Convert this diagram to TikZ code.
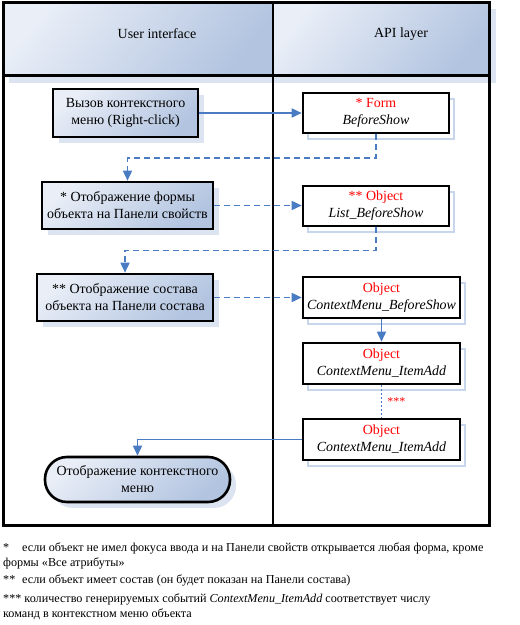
\documentclass[tikz,border=0pt]{standalone}
\usepackage{fontspec}
\setmainfont{Liberation Serif}
\usetikzlibrary{arrows.meta,shadows}
\definecolor{hdrA}{HTML}{E9EEF7}
\definecolor{hdrB}{HTML}{B2C4E0}
\definecolor{shd}{HTML}{DCE4F2}
\definecolor{shdline}{HTML}{C8D6EC}
\definecolor{conn}{HTML}{4A7CC4}
\tikzset{
  txt/.style={font=\fontsize{14}{17}\selectfont},
  cellshade/.style={top color=hdrA, bottom color=hdrB, shading angle=50},
  uibox/.style={txt, draw=black, line width=2.6bp, rectangle, inner sep=0pt, align=center,
    top color=hdrA, bottom color=hdrB, shading angle=40,
    general shadow={shadow xshift=6bp, shadow yshift=-6bp, fill=shd}},
  termbox/.style={uibox, rounded corners=22bp},
  apibox/.style={txt, draw=black, line width=2.6bp, rectangle, inner sep=0pt, align=center, fill=white,
    general shadow={shadow xshift=5bp, shadow yshift=-6bp, draw=shdline, line width=1.8bp, fill=white}},
  link/.style={draw=conn, line width=1.6bp, -{Triangle[length=10bp,width=9bp]}},
  dlink/.style={link, dash pattern=on 6bp off 4bp},
  plink/.style={draw=conn, line width=1.6bp, dash pattern=on 1.4bp off 2.6bp},
  note/.style={font=\fontsize{12.2}{14}\selectfont, anchor=west, inner sep=0pt},
  hdr/.style={txt, inner sep=0pt},
}
\begin{document}
\begin{tikzpicture}[x=1bp,y=-1bp]
\useasboundingbox (0,0) rectangle (520,625);
% header
\fill[shd] (9,9) rectangle (496,83);
\shade[cellshade] (3,3) rectangle (273,76);
\shade[cellshade] (273,3) rectangle (489,76);
\draw[line width=3bp] (3,3) rectangle (489,525);
\draw[line width=3bp] (3,76) -- (489,76);
\draw[line width=2.6bp] (273,3) -- (273,525);
\node[hdr] (hui) at (157,34) {User interface};
\node[hdr] (hapi) at (401,34) {API layer};
% left column
\node[uibox, minimum width=145bp, minimum height=48bp] (b1) at (125.5,113) {Вызов контекстного\\меню (Right-click)};
\node[uibox, minimum width=171bp, minimum height=47bp] (b2) at (127.5,205.5) {* Отображение формы\\объекта на Панели свойств};
\node[uibox, minimum width=176bp, minimum height=47bp] (b3) at (125,297.5) {** Отображение состава\\объекта на Панели состава};
\node[termbox, minimum width=185bp, minimum height=45bp] (term) at (137.5,479.5) {Отображение контекстного\\меню};
% right column
\node[apibox, minimum width=146bp, minimum height=40bp] (fA) at (376,113) {\textcolor{red}{* Form}\\\textit{BeforeShow}};
\node[apibox, minimum width=146bp, minimum height=40bp] (fB) at (376,206) {\textcolor{red}{** Object}\\\textit{List\_BeforeShow}};
\node[apibox, minimum width=157bp, minimum height=41bp] (fC) at (381.5,297.5) {\textcolor{red}{Object}\\\textit{ContextMenu\_BeforeShow}};
\node[apibox, minimum width=157bp, minimum height=41bp] (fD) at (381.5,363.5) {\textcolor{red}{Object}\\\textit{ContextMenu\_ItemAdd}};
\node[apibox, minimum width=157bp, minimum height=41bp] (fE) at (381.5,439.5) {\textcolor{red}{Object}\\\textit{ContextMenu\_ItemAdd}};
% connectors
\draw[link] (b1.east) -- (b1.east -| fA.west);
\draw[dlink] (fA.south) -- ++(0,24) -| (b2.north);
\draw[dlink] (b2.east) -- (b2.east -| fB.west);
\draw[dlink] (fB.south) -- ++(0,23) -| (b3.north);
\draw[dlink] (b3.east) -- (b3.east -| fC.west);
\draw[link] (fC.south) -- (fD.north);
\draw[plink] (fD.south) -- node[right=5bp, text=red, font=\fontsize{12}{12}\selectfont, inner sep=0pt] (stars) {***} (fE.north);
\draw[link] (fE.west) -| (term.north);
% footnotes
\node[note] (n1a) at (3,548) {*};
\node[note] (n1b) at (22,548) {если объект не имел фокуса ввода и на Панели свойств открывается любая форма, кроме};
\node[note] (n2) at (3,563) {формы «Все атрибуты»};
\node[note] (n3a) at (3,580) {**};
\node[note] (n3b) at (22,580) {если объект имеет состав (он будет показан на Панели состава)};
\node[note] (n4) at (3,599) {*** количество генерируемых событий \textit{ContextMenu\_ItemAdd} соответствует числу};
\node[note] (n5) at (3,614) {команд в контекстном меню объекта};
\end{tikzpicture}
\end{document}
